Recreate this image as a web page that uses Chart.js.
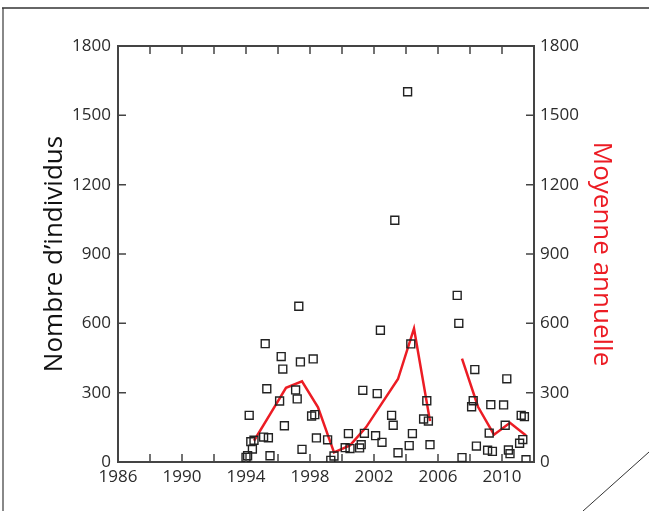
<!DOCTYPE html>
<html>
<head>
<meta charset="utf-8">
<script src="https://cdn.jsdelivr.net/npm/chart.js@4"></script>
<style>
  body { margin: 0; background: #fff; }
  #wrap { width: 649px; height: 511px; }
</style>
</head>
<body>
<div id="wrap"><canvas id="chart" width="649" height="511"></canvas></div>
<script>
// Individual counts (open squares)
const sampleYears = [1994.0, 1994.1, 1994.2, 1994.3, 1994.4, 1994.5, 1995.1, 1995.2, 1995.3, 1995.4, 1995.5,
    1996.1, 1996.2, 1996.3, 1996.4, 1997.1, 1997.2, 1997.3, 1997.4, 1997.5, 1998.1, 1998.2, 1998.3, 1998.4,
    1999.1, 1999.3, 1999.5, 2000.2, 2000.4, 2000.5, 2001.1, 2001.2, 2001.3, 2001.4, 2002.1, 2002.2, 2002.4, 2002.5,
    2003.1, 2003.2, 2003.3, 2003.5, 2004.1, 2004.2, 2004.3, 2004.4, 2005.1, 2005.3, 2005.4, 2005.5,
    2007.2, 2007.3, 2007.5, 2008.1, 2008.2, 2008.3, 2008.4, 2009.1, 2009.2, 2009.3, 2009.4,
    2010.1, 2010.2, 2010.3, 2010.4, 2010.5, 2011.1, 2011.2, 2011.3, 2011.4, 2011.5];
const sampleCounts = [20, 27, 202, 88, 56, 94, 108, 512, 317, 105, 27,
    264, 456, 402, 157, 312, 273, 674, 433, 55, 199, 446, 205, 104,
    96, 7, 26, 62, 123, 58, 61, 75, 310, 124, 114, 296, 570, 85,
    202, 159, 1046, 40, 1602, 71, 511, 123, 186, 265, 177, 75,
    721, 600, 19, 239, 265, 400, 69, 51, 125, 248, 46,
    247, 159, 360, 52, 36, 81, 202, 97, 196, 10];

// Annual mean (red line), null = no data that year
const meanYears = [1994.5, 1995.5, 1996.5, 1997.5, 1998.5, 1999.5, 2000.5, 2001.5, 2002.5, 2003.5, 2004.5, 2005.5,
    2006.5, 2007.5, 2008.5, 2009.5, 2010.5, 2011.5];
const meanValues = [92, 206, 321, 349, 237, 42, 72, 150, 255, 359, 578, 177,
    null, 447, 239, 118, 170, 115];

const xTicks = [1986, 1988, 1990, 1992, 1994, 1996, 1998, 2000, 2002, 2004, 2006, 2008, 2010, 2012];
const yTicks = [0, 300, 600, 900, 1200, 1500, 1800];

const tickFont = { family: 'Open Sans', size: 17 };
const axisColor = '#444';
const red = '#ec1c24';

// small tick marks pointing into the plot, on all four sides
const inwardTicks = {
    id: 'inwardTicks',
    afterDraw(chart) {
        const ctx = chart.ctx;
        const a = chart.chartArea;
        const len = 8;
        ctx.save();
        ctx.strokeStyle = axisColor;
        ctx.lineWidth = 1.5;
        ctx.beginPath();
        xTicks.forEach(v => {
            const px = chart.scales.x.getPixelForValue(v);
            ctx.moveTo(px, a.bottom); ctx.lineTo(px, a.bottom - len);
            ctx.moveTo(px, a.top); ctx.lineTo(px, a.top + len);
        });
        yTicks.forEach(v => {
            const py = chart.scales.y.getPixelForValue(v);
            ctx.moveTo(a.left, py); ctx.lineTo(a.left + len, py);
            ctx.moveTo(a.right, py); ctx.lineTo(a.right - len, py);
        });
        ctx.stroke();
        ctx.restore();
    }
};

// page border + folded corner seen in the scan
const pageFrame = {
    id: 'pageFrame',
    afterDraw(chart) {
        const ctx = chart.ctx;
        ctx.save();
        ctx.strokeStyle = '#888';
        ctx.lineWidth = 2;
        ctx.beginPath(); ctx.moveTo(3, 8); ctx.lineTo(3, 511); ctx.stroke();
        ctx.strokeStyle = '#333';
        ctx.lineWidth = 1.5;
        ctx.beginPath(); ctx.moveTo(2, 8); ctx.lineTo(649, 8); ctx.stroke();
        ctx.lineWidth = 1;
        ctx.beginPath(); ctx.moveTo(583, 511); ctx.lineTo(649, 452); ctx.stroke();
        ctx.restore();
    }
};

new Chart(document.getElementById('chart'), {
    data: {
        datasets: [
            {
                type: 'scatter',
                label: 'Nombre d\u2019individus',
                data: sampleYears.map((x, i) => ({ x: x, y: sampleCounts[i] })),
                pointStyle: 'rect',
                pointRadius: 5.6,
                pointHoverRadius: 5.6,
                borderColor: '#222',
                borderWidth: 1.4,
                backgroundColor: 'rgba(255,255,255,0)',
                xAxisID: 'x',
                yAxisID: 'y'
            },
            {
                type: 'line',
                label: 'Moyenne annuelle',
                data: meanYears.map((x, i) => ({ x: x, y: meanValues[i] })),
                borderColor: red,
                borderWidth: 2.5,
                pointRadius: 0,
                spanGaps: false,
                tension: 0,
                xAxisID: 'x',
                yAxisID: 'y2'
            }
        ]
    },
    options: {
        responsive: false,
        animation: false,
        layout: { padding: 0 },
        plugins: {
            legend: { display: false },
            tooltip: { enabled: false }
        },
        scales: {
            x: {
                type: 'linear',
                position: 'bottom',
                min: 1986,
                max: 2012,
                afterBuildTicks: s => { s.ticks = xTicks.map(v => ({ value: v })); },
                afterFit: s => { s.height = 49; },
                grid: { display: false, drawTicks: false },
                border: { display: true, color: axisColor, width: 2 },
                ticks: {
                    autoSkip: false,
                    maxRotation: 0,
                    padding: 5,
                    color: '#2b2b2b',
                    font: tickFont,
                    callback: v => ((v - 1986) % 4 === 0 && v < 2012) ? String(v) : ''
                }
            },
            x2: {
                type: 'linear',
                position: 'top',
                min: 1986,
                max: 2012,
                afterFit: s => { s.height = 46; },
                grid: { display: false, drawTicks: false },
                border: { display: true, color: axisColor, width: 2 },
                ticks: { display: false }
            },
            y: {
                position: 'left',
                min: 0,
                max: 1800,
                afterBuildTicks: s => { s.ticks = yTicks.map(v => ({ value: v })); },
                afterFit: s => { s.width = 118; },
                grid: { display: false, drawTicks: false },
                border: { display: true, color: axisColor, width: 2 },
                ticks: { padding: 7, color: '#2b2b2b', font: tickFont, callback: v => String(v) },
                title: {
                    display: true,
                    text: 'Nombre d\u2019individus',
                    color: '#111',
                    font: { family: 'Open Sans', size: 26 },
                    padding: { top: 39, bottom: 0 }
                }
            },
            y2: {
                position: 'right',
                min: 0,
                max: 1800,
                afterBuildTicks: s => { s.ticks = yTicks.map(v => ({ value: v })); },
                afterFit: s => { s.width = 115; },
                grid: { display: false, drawTicks: false },
                border: { display: true, color: axisColor, width: 2 },
                ticks: { padding: 6, color: '#2b2b2b', font: tickFont, callback: v => String(v) },
                title: {
                    display: true,
                    text: 'Moyenne annuelle',
                    color: red,
                    font: { family: 'Open Sans', size: 26 },
                    padding: { top: 32, bottom: 0 }
                }
            }
        }
    },
    plugins: [inwardTicks, pageFrame]
});
</script>
</body>
</html>
